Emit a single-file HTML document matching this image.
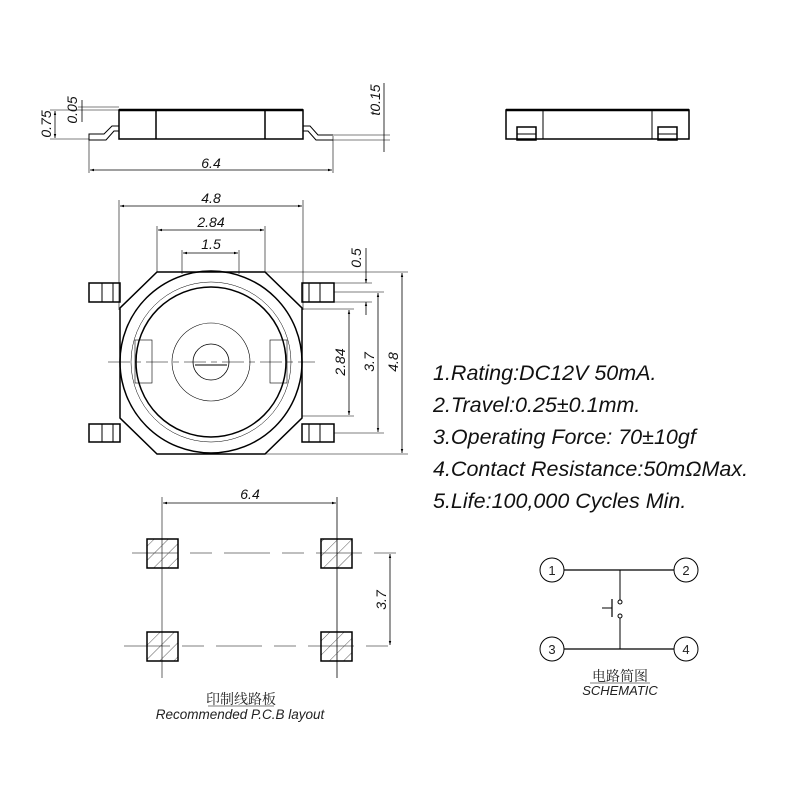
<!DOCTYPE html>
<html><head><style>body{margin:0;background:#fff}svg{display:block}</style></head><body>
<svg width="800" height="800" viewBox="0 0 800 800" xmlns="http://www.w3.org/2000/svg" font-family="Liberation Sans, sans-serif">
<defs>
<marker id="a" viewBox="0 0 10 10" refX="10" refY="5" markerWidth="7" markerHeight="5" orient="auto-start-reverse"><path d="M0,2 L10,5 L0,8z" fill="#000"/></marker>
<pattern id="h" width="10" height="10" patternUnits="userSpaceOnUse" patternTransform="rotate(45)"><line x1="0" y1="0" x2="0" y2="10" stroke="#333" stroke-width="0.8"/></pattern>
</defs>
<g fill="none" stroke="#000" stroke-width="1">
<rect x="119" y="110" width="184" height="29" stroke-width="1.5"/>
<line x1="119" y1="110" x2="303" y2="110" stroke-width="2.5"/>
<line x1="156" y1="110" x2="156" y2="139" stroke-width="1.5"/><line x1="265" y1="110" x2="265" y2="139" stroke-width="1.5"/>
<path d="M119,126 L112,126 L104,134 L89,134 L89,140 L106,140 L114,131 L119,131"/>
<path d="M303,126 L310,126 L318,135 L333,135 M303,131 L308,131 L316,140 L333,140"/>
<line x1="89" y1="140" x2="89" y2="173" stroke-width="0.6"/><line x1="333" y1="136" x2="333" y2="173" stroke-width="0.6"/>
<line x1="90" y1="170" x2="332" y2="170" marker-start="url(#a)" marker-end="url(#a)" stroke-width="0.8"/>
<line x1="50" y1="110" x2="119" y2="110" stroke-width="0.6"/><line x1="50" y1="139" x2="89" y2="139" stroke-width="0.6"/><line x1="78" y1="107" x2="119" y2="107" stroke-width="0.6"/>
<line x1="55" y1="111" x2="55" y2="138" marker-start="url(#a)" marker-end="url(#a)" stroke-width="0.8"/>
<line x1="82" y1="100" x2="82" y2="122" stroke-width="0.8"/>
<line x1="384" y1="83" x2="384" y2="152" stroke-width="0.8"/>
<line x1="333" y1="135" x2="390" y2="135" stroke-width="0.6"/><line x1="333" y1="140" x2="390" y2="140" stroke-width="0.6"/>
<rect x="506" y="110" width="183" height="29" stroke-width="1.5"/>
<line x1="506" y1="110" x2="689" y2="110" stroke-width="2.5"/>
<line x1="543" y1="110" x2="543" y2="139"/><line x1="652" y1="110" x2="652" y2="139"/>
<rect x="517" y="127" width="19" height="13" stroke-width="1.5"/><line x1="517" y1="134" x2="536" y2="134"/>
<rect x="658" y="127" width="19" height="13" stroke-width="1.5"/><line x1="658" y1="134" x2="677" y2="134"/>
<line x1="119" y1="200" x2="119" y2="310" stroke-width="0.6"/><line x1="303" y1="200" x2="303" y2="310" stroke-width="0.6"/>
<line x1="120" y1="206" x2="302" y2="206" marker-start="url(#a)" marker-end="url(#a)" stroke-width="0.8"/>
<line x1="157" y1="226" x2="157" y2="272" stroke-width="0.6"/><line x1="265" y1="226" x2="265" y2="272" stroke-width="0.6"/>
<line x1="158" y1="230" x2="264" y2="230" marker-start="url(#a)" marker-end="url(#a)" stroke-width="0.8"/>
<line x1="182" y1="250" x2="182" y2="274" stroke-width="0.6"/><line x1="239" y1="250" x2="239" y2="274" stroke-width="0.6"/>
<line x1="183" y1="253" x2="238" y2="253" marker-start="url(#a)" marker-end="url(#a)" stroke-width="0.8"/>
<path d="M157,272 L265,272 L302,308 L302,418 L265,454 L157,454 L120,418 L120,308 Z" stroke-width="1.5"/>
<circle cx="211" cy="362" r="91" stroke-width="1.5"/>
<circle cx="211" cy="362" r="75" stroke-width="1.5"/>
<circle cx="211" cy="362" r="80" stroke-width="0.5"/>
<circle cx="211" cy="362" r="39" stroke-width="0.6"/>
<circle cx="211" cy="362" r="18" stroke-width="0.8"/>
<rect x="135" y="340" width="17" height="43" stroke-width="0.6"/>
<rect x="270" y="340" width="17" height="43" stroke-width="0.6"/>
<line x1="108" y1="362" x2="315" y2="362" stroke-width="0.6" stroke-dasharray="22,5,6,5"/>
<line x1="195" y1="365" x2="227" y2="365" stroke-width="1"/>
<rect x="89" y="283" width="31" height="19" stroke-width="1.5"/><line x1="102" y1="283" x2="102" y2="302"/><line x1="113" y1="283" x2="113" y2="302"/>
<rect x="89" y="424" width="31" height="18" stroke-width="1.5"/><line x1="102" y1="424" x2="102" y2="442"/><line x1="113" y1="424" x2="113" y2="442"/>
<rect x="302" y="283" width="32" height="19" stroke-width="1.5"/><line x1="309" y1="283" x2="309" y2="302"/><line x1="320" y1="283" x2="320" y2="302"/>
<rect x="302" y="424" width="32" height="18" stroke-width="1.5"/><line x1="309" y1="424" x2="309" y2="442"/><line x1="320" y1="424" x2="320" y2="442"/>
<line x1="265" y1="272" x2="408" y2="272" stroke-width="0.6"/><line x1="265" y1="454" x2="408" y2="454" stroke-width="0.6"/>
<line x1="334" y1="292" x2="384" y2="292" stroke-width="0.6"/><line x1="334" y1="433" x2="384" y2="433" stroke-width="0.6"/>
<line x1="302" y1="309" x2="354" y2="309" stroke-width="0.6"/><line x1="302" y1="416" x2="354" y2="416" stroke-width="0.6"/>
<line x1="334" y1="283" x2="372" y2="283" stroke-width="0.6"/><line x1="334" y1="302" x2="372" y2="302" stroke-width="0.6"/>
<line x1="366" y1="248" x2="366" y2="283" marker-end="url(#a)" stroke-width="0.8"/><line x1="366" y1="315" x2="366" y2="302" marker-end="url(#a)" stroke-width="0.8"/>
<line x1="349" y1="310" x2="349" y2="415" marker-start="url(#a)" marker-end="url(#a)" stroke-width="0.8"/>
<line x1="378" y1="293" x2="378" y2="432" marker-start="url(#a)" marker-end="url(#a)" stroke-width="0.8"/>
<line x1="402" y1="273" x2="402" y2="453" marker-start="url(#a)" marker-end="url(#a)" stroke-width="0.8"/>
<line x1="162" y1="497" x2="162" y2="678" stroke-width="0.6"/><line x1="337" y1="497" x2="337" y2="678" stroke-width="0.8"/>
<line x1="163" y1="503" x2="336" y2="503" marker-start="url(#a)" marker-end="url(#a)" stroke-width="0.8"/>
<line x1="132" y1="553" x2="396" y2="553" stroke-width="0.6" stroke-dasharray="46,12,22,12"/>
<line x1="124" y1="646" x2="396" y2="646" stroke-width="0.6" stroke-dasharray="46,12,22,12"/>
<line x1="390" y1="554" x2="390" y2="645" marker-start="url(#a)" marker-end="url(#a)" stroke-width="0.8"/>
<g stroke-width="1.5" fill="url(#h)">
<rect x="147" y="539" width="31" height="29"/><rect x="321" y="539" width="31" height="29"/>
<rect x="147" y="632" width="31" height="29"/><rect x="321" y="632" width="31" height="29"/>
</g>
<circle cx="552" cy="570" r="12"/><circle cx="686" cy="570" r="12"/>
<circle cx="552" cy="649" r="12"/><circle cx="686" cy="649" r="12"/>
<line x1="564" y1="570" x2="674" y2="570" stroke-width="1.2"/><line x1="564" y1="649" x2="674" y2="649" stroke-width="1.2"/>
<line x1="620" y1="570" x2="620" y2="600"/><circle cx="620" cy="602" r="2"/><circle cx="620" cy="616" r="2"/>
<line x1="620" y1="618" x2="620" y2="649"/>
<line x1="612" y1="599" x2="612" y2="617" stroke-width="1.2"/><line x1="602" y1="608" x2="612" y2="608"/>
<line x1="590" y1="683" x2="650" y2="683" stroke-width="0.6"/>
<line x1="208" y1="706" x2="274" y2="706" stroke-width="0.6"/>
</g>
<g font-style="italic" font-size="14" text-anchor="middle" fill="#111">
<text x="211" y="168">6.4</text>
<text x="211" y="203">4.8</text>
<text x="211" y="227">2.84</text>
<text x="211" y="249">1.5</text>
<text transform="translate(51,124) rotate(-90)">0.75</text>
<text transform="translate(77,110) rotate(-90)">0.05</text>
<text transform="translate(380,100) rotate(-90)">t0.15</text>
<text transform="translate(361,258) rotate(-90)">0.5</text>
<text transform="translate(345,362) rotate(-90)">2.84</text>
<text transform="translate(374,362) rotate(-90)">3.7</text>
<text transform="translate(398,362) rotate(-90)">4.8</text>
<text x="250" y="499">6.4</text>
<text transform="translate(386,600) rotate(-90)">3.7</text>
</g>
<g font-style="italic" font-size="21.5" fill="#111">
<text x="433" y="380">1.Rating:DC12V 50mA.</text>
<text x="433" y="412">2.Travel:0.25±0.1mm.</text>
<text x="433" y="444">3.Operating Force: 70±10gf</text>
<text x="433" y="476">4.Contact Resistance:50mΩMax.</text>
<text x="433" y="508">5.Life:100,000 Cycles Min.</text>
</g>
<g font-size="13" text-anchor="middle" fill="#222">
<text x="552" y="575">1</text><text x="686" y="575">2</text><text x="552" y="654">3</text><text x="686" y="654">4</text>
<text x="620" y="681" font-family="Noto Serif CJK SC, serif" font-size="14">电路简图</text>
<text x="620" y="695" font-style="italic" font-size="13">SCHEMATIC</text>
<text x="241" y="704" font-family="Noto Serif CJK SC, serif" font-size="14">印制线路板</text>
<text x="240" y="719" font-style="italic" font-size="13.5">Recommended P.C.B layout</text>
</g>
</svg>
</body></html>
